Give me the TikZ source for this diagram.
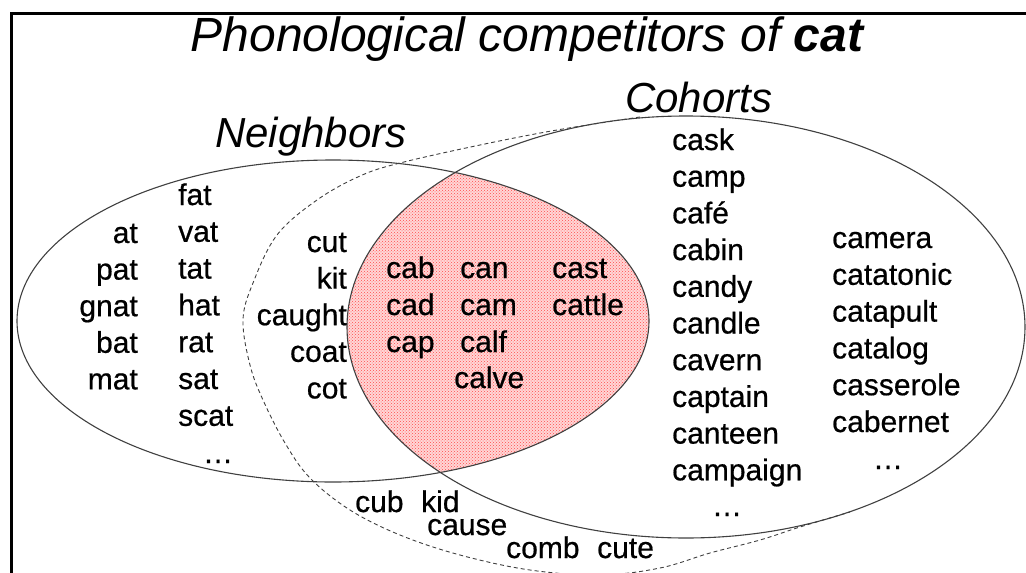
\documentclass[tikz,border=0pt]{standalone}
\usepackage{fontspec}
\setmainfont{Liberation Sans}
\newfontfamily\wordfont{Liberation Sans}[FakeBold=0.6]
\usetikzlibrary{patterns}
\begin{document}
\begin{tikzpicture}[x=1pt,y=-1pt,
  word/.style={inner sep=0pt, font=\wordfont\fontsize{30}{36}\selectfont},
  setlabel/.style={inner sep=0pt, anchor=base west, font=\fontsize{42}{50}\selectfont\itshape},
  setline/.style={draw=black!75, line width=1.1pt},
  looseset/.style={draw=black!75, line width=0.9pt, dash pattern=on 4pt off 3pt},
  ]
\useasboundingbox (0,0) rectangle (1026,573);

% overlap of the two sets, shaded red
\begin{scope}
  \clip (333,321) ellipse [x radius=316, y radius=161];
  \fill[red!16] (686,327) ellipse [x radius=339, y radius=211];
  \fill[pattern=crosshatch dots, pattern color=red!70] (686,327) ellipse [x radius=339, y radius=211];
\end{scope}

% frame
\draw[line width=3pt] (11,590) -- (11,13) -- (1040,13);

% the two sets
\draw[setline] (333,321) ellipse [x radius=316, y radius=161];
\draw[setline] (686,327) ellipse [x radius=339, y radius=211];

% dashed outline joining the cohort set
\draw[looseset] plot[smooth, tension=0.6] coordinates {
  (640,117) (557,130) (480,145) (400,163) (360,176) (317,200) (277,235)
  (253,283) (243,320) (250,365) (263,400) (285,443) (310,478) (350,510)
  (400,535) (460,555) (530,570) (600,575) (660,568) (710,553) (760,540)
  (800,527) (850,512)};

% title and set names
\node[inner sep=0pt, anchor=base, font=\fontsize{48}{58}\selectfont\itshape]
  (title) at (527,51) {Phonological competitors of \textbf{cat}};
\node[setlabel] (nbLabel) at (215,147) {Neighbors};
\node[setlabel] (cohLabel) at (625,112) {Cohorts};

% neighbours only
\foreach \w [count=\i from 0] in {at,pat,gnat,bat,mat}
  \node[word, anchor=base east] (nbA\i) at (138,243+36.6*\i) {\w};
\foreach \w [count=\i from 0] in {fat,vat,tat,hat,rat,sat,scat}
  \node[word, anchor=base west] (nbB\i) at (178,205+36.8*\i) {\w};
\node[word, anchor=base] (nbDots) at (218,463) {…};

% neighbours sharing the onset
\foreach \w [count=\i from 0] in {cut,kit,caught,coat,cot}
  \node[word, anchor=base east] (nbC\i) at (347,252+36.6*\i) {\w};

% overlap words
\foreach \w [count=\i from 0] in {cab,cad,cap}
  \node[word, anchor=base west] (ovA\i) at (386,278+37*\i) {\w};
\foreach \w [count=\i from 0] in {can,cam,calf}
  \node[word, anchor=base west] (ovB\i) at (460,278+37*\i) {\w};
\node[word, anchor=base west] (ovB3) at (454,388) {calve};
\foreach \w [count=\i from 0] in {cast,cattle}
  \node[word, anchor=base west] (ovC\i) at (552,278+37*\i) {\w};

% cohorts only
\foreach \w [count=\i from 0] in {cask,camp,café,cabin,candy,candle,cavern,captain,canteen,campaign}
  \node[word, anchor=base west] (coA\i) at (672,150+36.7*\i) {\w};
\node[word, anchor=base] (coADots) at (727,516) {…};
\foreach \w [count=\i from 0] in {camera,catatonic,catapult,catalog,casserole,cabernet}
  \node[word, anchor=base west] (coB\i) at (832,248+36.8*\i) {\w};
\node[word, anchor=base] (coBDots) at (888,469) {…};

% outside both sets
\node[word, anchor=base west] (exA) at (355,512) {cub};
\node[word, anchor=base west] (exB) at (421,512) {kid};
\node[word, anchor=base west] (exC) at (427,535) {cause};
\node[word, anchor=base west] (exD) at (506,558) {comb};
\node[word, anchor=base west] (exE) at (597,558) {cute};
\end{tikzpicture}
\end{document}
